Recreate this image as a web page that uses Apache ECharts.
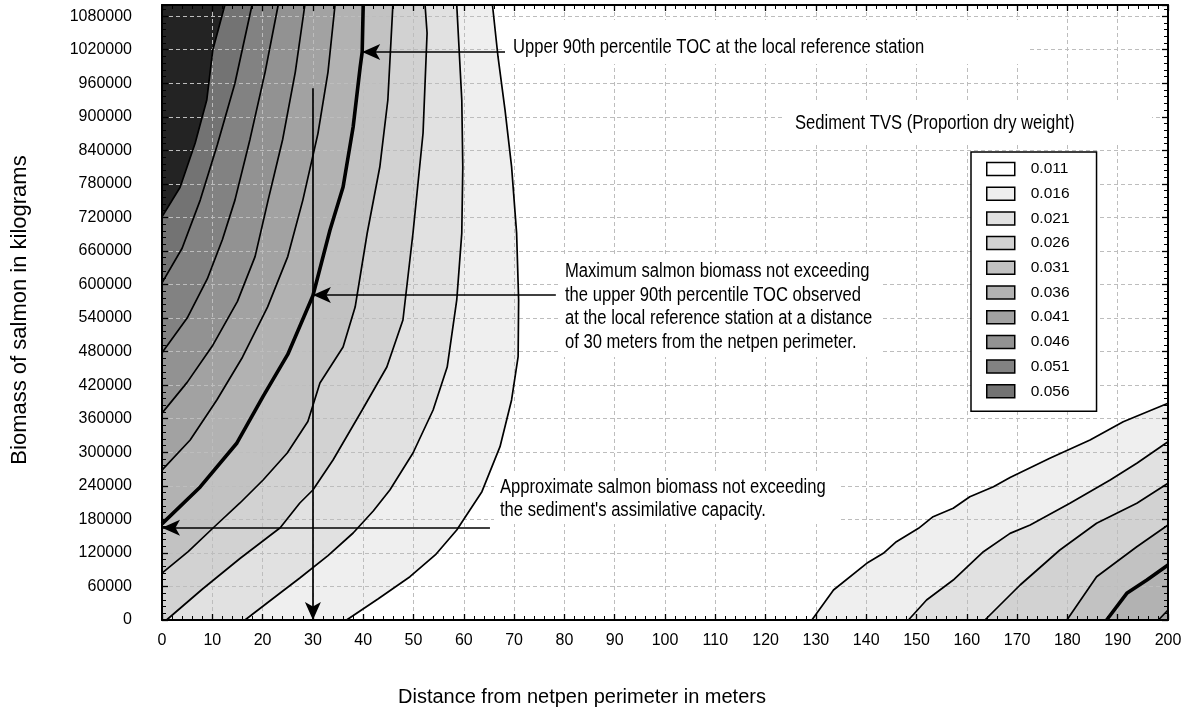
<!DOCTYPE html>
<html><head><meta charset="utf-8">
<script src="https://cdn.jsdelivr.net/npm/echarts/dist/echarts.min.js"></script>
<style>html,body{margin:0;padding:0;background:#fff}#chart{width:1191px;height:713px}</style>
</head><body><div id="chart"></div>
<script>
// ---- data (distance m, biomass kg) ----
const levels = ['0.011','0.016','0.021','0.026','0.031','0.036','0.041','0.046','0.051','0.056'];
const levelColors = ['#ffffff','#efefef','#e1e1e1','#d2d2d2','#c2c2c2','#b2b2b2','#a2a2a2','#929292','#828282','#737373'];
const aboveColor = '#232323';

// left group contour lines (outer -> inner)
const L011 = [[36.7,0],[43,38000],[49.3,77400],[54.5,118000],[58.6,161000],[63.6,229500],[67.2,310000],[69.5,393500],[70.8,471000],[70.9,572000],[70.5,692000],[69.5,811000],[68.2,912000],[66.8,1007500],[65.7,1100000]];
const L016 = [[16.5,0],[22,38000],[27.4,75100],[33,115000],[38,155600],[42,195000],[45.3,232500],[49.9,298700],[53.9,375600],[56.7,452500],[58.6,572400],[59.6,692000],[59.8,810000],[59.6,930000],[58.6,1100000]];
const L021 = [[0.9,0],[8,55000],[15.5,110000],[23.5,165000],[27.4,209300],[30,232500],[34,286200],[39.8,375600],[44.7,452500],[47.9,536600],[49.9,692200],[51.9,871000],[52.7,1049900],[52.3,1100000]];
const L026 = [[0,84000],[5.2,122200],[10.2,165000],[15.5,209300],[20.1,250400],[24.9,298700],[29,355000],[31.4,423900],[36,488300],[38.4,559800],[40.8,692200],[43.3,810200],[44.9,930100],[45.9,1100000]];
const L031 = [[0,172000],[7.6,238000],[14.9,316600],[20.1,400000],[25,475000],[30,580000],[33.4,697500],[36,774500],[38,881800],[39.4,989100],[39.8,1016000],[40,1100000]];
const L036 = [[0,268000],[5.6,322000],[10.9,393500],[16,470000],[21,560000],[25,650000],[28,751000],[31,870000],[33,980000],[34.4,1100000]];
const L041 = [[0,370000],[5,425000],[10,490000],[15,570000],[18.5,650000],[21.1,751000],[24,860000],[26.5,980000],[28.4,1100000]];
const L046 = [[0,478000],[5,540000],[9,610000],[12,680000],[14.5,751000],[17.5,860000],[20.5,980000],[23.1,1100000]];
const L051 = [[0,603000],[4,665000],[7.6,751000],[11,850000],[14.5,960000],[17.9,1100000]];
const L056 = [[0,721000],[3.6,774000],[6.6,853000],[8.9,930000],[10.1,1019500],[12.5,1100000]];

// right group contour lines (outer -> inner)
const R011 = [[129.2,0],[133.5,53700],[140.1,101400],[143.4,119300],[146,140100],[150.4,164000],[153.3,184800],[157.3,199800],[160.6,220500],[165.3,238400],[168.6,255000],[176.5,289200],[184.5,322000],[191.1,354700],[200,387600]];
const R016 = [[148.4,0],[152,35800],[157.3,71500],[163.3,122200],[168.6,155000],[172.6,169900],[180.5,208700],[188.5,250400],[193.8,280300],[200,318900]];
const R021 = [[163.6,0],[170.6,62600],[178.5,125200],[185.8,173000],[193.8,208700],[200,244500]];
const R026 = [[179.9,0],[185.8,77400],[193.8,131100],[200,169900]];
const R031 = [[187.8,0],[191.8,47700],[195.8,71500],[200,98400]];
const R036 = [[198.1,0],[200,17900]];

const leftLines = [L011,L016,L021,L026,L031,L036,L041,L046,L051,L056];
const rightLines = [R011,R016,R021,R026,R031,R036];
const thickLevel = 4; // 0.031 drawn bold

// annotation arrows [from, to]
const arrowUpper = [[68.2,1016000],[39.8,1016000]];
const arrowMax = [[78.3,581300],[30,581300]];
const arrowAssim = [[65.2,165100],[0,165100]];
const arrowDown = [[30,951000],[30,0]];

const X_MIN=0, X_MAX=200, Y_MIN=0, Y_MAX=1100000;

// ---- build polygons ----
const polys = [];
leftLines.forEach((ln,i)=>{
  const close = ln[0][1]===Y_MIN ? [[X_MIN,Y_MAX],[X_MIN,Y_MIN]] : [[X_MIN,Y_MAX]];
  polys.push({pts: ln.concat(close), band: i+1});
});
rightLines.forEach((ln,i)=>{
  polys.push({pts: ln.concat([[X_MAX,Y_MIN]]), band: i+1});
});

const FR = '"Liberation Sans",Arial,sans-serif';

function bandRender(params, api){
  const p = polys[api.value(0)];
  return {type:'polygon', shape:{points: p.pts.map(q=>api.coord(q))}, style:{fill: api.visual('color'), stroke:null}};
}

const series = [];
levels.forEach((lv,bi)=>{
  const data = [];
  polys.forEach((p,k)=>{ if(p.band===bi) data.push([k,0]); });
  series.push({type:'custom', name: lv, z:1, silent:true, itemStyle:{color: levelColors[bi]}, renderItem: bandRender, data});
});
{
  const data = [];
  polys.forEach((p,k)=>{ if(p.band===10) data.push([k,0]); });
  series.push({type:'custom', name:'above', z:1, silent:true, itemStyle:{color: aboveColor}, renderItem: bandRender, data});
}
leftLines.concat(rightLines).forEach((ln,i)=>{
  const lvl = i < leftLines.length ? i : i - leftLines.length;
  series.push({type:'line', data: ln, z:5, silent:true, showSymbol:false, symbol:'none', animation:false,
    lineStyle:{color:'#000', width: lvl===thickLevel?3.6:1.7}});
});
series.push({type:'line', data: [], z:6, silent:true, markLine:{silent:true, animation:false, symbol:['none','arrow'], symbolSize:[12,18],
  label:{show:false}, lineStyle:{color:'#000', width:1.7, type:'solid'},
  data:[arrowUpper,arrowMax,arrowAssim,arrowDown].map(a=>[{coord:a[0]},{coord:a[1]}])}});

const gridLine = {show:true, lineStyle:{color:'#bdbdbd', type:[4,3], width:1}};
const axLine = {show:true, onZero:false, lineStyle:{color:'#000', width:2}};
const tick = {show:true, inside:true, length:6, lineStyle:{color:'#000', width:1.3}};
const minor = {show:true, splitNumber:5, length:4, lineStyle:{color:'#000', width:1}};

const texts = [
  {x:513, y:47, t:'Upper 90th percentile TOC at the local reference station'},
  {x:795, y:123, t:'Sediment TVS (Proportion dry weight)'},
  {x:565, y:271, t:'Maximum salmon biomass not exceeding'},
  {x:565, y:295, t:'the upper 90th percentile TOC observed'},
  {x:565, y:318, t:'at the local reference station at a distance'},
  {x:565, y:342, t:'of 30 meters from the netpen perimeter.'},
  {x:500, y:487, t:'Approximate salmon biomass not exceeding'},
  {x:500, y:510, t:"the sediment's assimilative capacity."}
];
const boxes = [[505,20,525,44],[785,102,367,40],[558,256,322,101],[494,473,346,51]];

const graphic = [];
boxes.forEach(b=>graphic.push({type:'rect', z:10, silent:true, shape:{x:b[0],y:b[1],width:b[2],height:b[3]}, style:{fill:'#fff'}}));
texts.forEach(o=>graphic.push({type:'text', z:11, silent:true, x:o.x, y:o.y, scaleX:0.83, style:{text:o.t, font:'20px '+FR, fill:'#000', verticalAlign:'middle'}}));
graphic.push({type:'text', z:11, x:398, y:697, style:{text:'Distance from netpen perimeter in meters', font:'20px '+FR, fill:'#000', verticalAlign:'middle'}});
graphic.push({type:'text', z:11, x:20, y:310, rotation:Math.PI/2, style:{text:'Biomass of salmon in kilograms', font:'22px '+FR, fill:'#000', align:'center', verticalAlign:'middle'}});

const chart = echarts.init(document.getElementById('chart'), null, {renderer:'canvas'});
chart.setOption({
  animation:false,
  backgroundColor:'#fff',
  grid:{left:162, right:23, top:5, bottom:93},
  xAxis:[
    {type:'value', min:X_MIN, max:X_MAX, interval:10, position:'bottom', z:3, axisLine:axLine, axisTick:tick, minorTick:minor,
     axisLabel:{fontFamily:FR, fontSize:16, color:'#000', margin:13}, splitLine:gridLine},
    {type:'value', min:X_MIN, max:X_MAX, interval:10, position:'top', z:3, axisLine:axLine, axisTick:tick, minorTick:minor,
     axisLabel:{show:false}, splitLine:{show:false}}
  ],
  yAxis:[
    {type:'value', min:Y_MIN, max:Y_MAX, interval:60000, position:'left', z:3, axisLine:axLine, axisTick:tick, minorTick:minor,
     axisLabel:{fontFamily:FR, fontSize:16, color:'#000', margin:30, showMaxLabel:false, formatter:v=>String(v)}, splitLine:gridLine},
    {type:'value', min:Y_MIN, max:Y_MAX, interval:60000, position:'right', z:3, axisLine:axLine, axisTick:tick, minorTick:minor,
     axisLabel:{show:false}, splitLine:{show:false}}
  ],
  legend:{show:true, data:levels, orient:'vertical', left:971, top:152, z:12,
    padding:[9,27,12,15], itemWidth:28, itemHeight:13, itemGap:8.7, icon:'rect',
    backgroundColor:'#fff', borderColor:'#000', borderWidth:1.5, borderRadius:0,
    itemStyle:{borderColor:'#000', borderWidth:1.5},
    textStyle:{fontFamily:FR, fontSize:15.5, color:'#000', padding:[0,0,0,11]},
    selectedMode:false},
  graphic,
  series
});
</script></body></html>
